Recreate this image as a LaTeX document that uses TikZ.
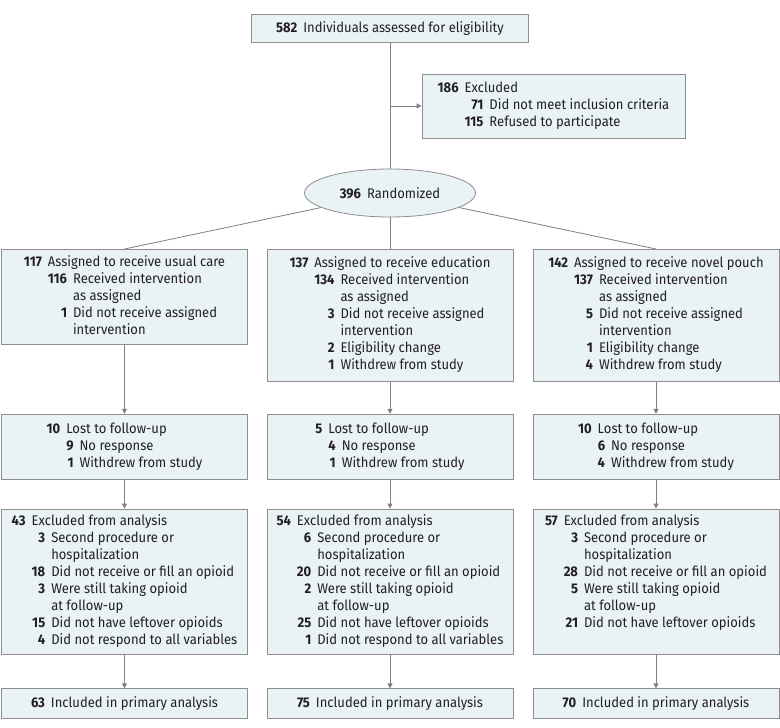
\documentclass[tikz,border=0pt]{standalone}
\usepackage{fontspec}
\setmainfont{Fira Sans}[FakeStretch=0.93]
\usepackage{tikz}
\usetikzlibrary{positioning,arrows.meta,shapes.geometric}
\definecolor{borde}{HTML}{8E8E8E}
\definecolor{relleno}{HTML}{E9F2F5}
\definecolor{linea}{HTML}{808080}
\definecolor{tinta}{HTML}{231F20}
\newcommand{\nro}[1]{\textbf{#1}}
\newcommand{\enc}[2]{\nro{#1} & \multicolumn{2}{@{}l@{}}{#2}}
\newenvironment{lista}{\begin{tabular}{@{}r@{\hspace{6pt}}r@{\hspace{6pt}}l@{}}}{\end{tabular}}

\begin{document}
\begin{tikzpicture}[x=1pt,y=-1pt,
      caja/.style={draw=borde,fill=relleno,line width=0.8pt,inner sep=0pt,
                   minimum width=246pt,text=tinta,font=\fontsize{14}{17}\selectfont},
      elip/.style={caja,ellipse,minimum width=171pt,minimum height=48pt},
      fl/.style={-{Triangle[length=5pt,width=5pt]},line width=0.8pt,linea},
      ln/.style={line width=0.8pt,linea},
      node distance=32pt]
    \useasboundingbox (0,0) rectangle (780,728);
    \node[caja,minimum width=277pt,minimum height=28pt] (eleg) at (390,28.5)
         {\nro{582}\hspace{6pt}Individuals assessed for eligibility};
    \node[caja,minimum width=263pt,minimum height=64pt] (excl) at (553.5,106)
         {\begin{lista}\enc{186}{Excluded}\\
          & \nro{71} & Did not meet inclusion criteria\\
          & \nro{115} & Refused to participate\end{lista}};
    \node[elip] (rand) at (390,193) {\nro{396}\hspace{6pt}Randomized};
    \coordinate (rama) at (eleg.south |- excl.west);
    % brazos
    \node[caja,anchor=north,minimum height=95pt] (usual) at (124.5,249)
         {\begin{lista}\enc{117}{Assigned to receive usual care}\\
          & \nro{116} & Received intervention\\ & & as assigned\\
          & \nro{1} & Did not receive assigned\\ & & intervention\end{lista}};
    \node[caja,anchor=north,minimum height=132pt] (educ) at (390,249)
         {\begin{lista}\enc{137}{Assigned to receive education}\\
          & \nro{134} & Received intervention\\ & & as assigned\\
          & \nro{3} & Did not receive assigned\\ & & intervention\\
          & \nro{2} & Eligibility change\\
          & \nro{1} & Withdrew from study\end{lista}};
    \node[caja,anchor=north,minimum height=132pt] (pouch) at (656,249)
         {\begin{lista}\enc{142}{Assigned to receive novel pouch}\\
          & \nro{137} & Received intervention\\ & & as assigned\\
          & \nro{5} & Did not receive assigned\\ & & intervention\\
          & \nro{1} & Eligibility change\\
          & \nro{4} & Withdrew from study\end{lista}};
    % seguimiento
    \node[caja,minimum height=65pt,below=of educ] (lost2)
         {\begin{lista}\enc{5}{Lost to follow-up}\\
          & \nro{4} & No response\\
          & \nro{1} & Withdrew from study\end{lista}};
    \node[caja,minimum height=65pt] (lost1) at (usual |- lost2)
         {\begin{lista}\enc{10}{Lost to follow-up}\\
          & \nro{9} & No response\\
          & \nro{1} & Withdrew from study\end{lista}};
    \node[caja,minimum height=65pt,below=of pouch] (lost3)
         {\begin{lista}\enc{10}{Lost to follow-up}\\
          & \nro{6} & No response\\
          & \nro{4} & Withdrew from study\end{lista}};
    % analisis
    \node[caja,minimum height=145pt,below=29pt of lost1] (anal1)
         {\begin{lista}\enc{43}{Excluded from analysis}\\
          & \nro{3} & Second procedure or\\ & & hospitalization\\
          & \nro{18} & Did not receive or fill an opioid\\
          & \nro{3} & Were still taking opioid\\ & & at follow-up\\
          & \nro{15} & Did not have leftover opioids\\
          & \nro{4} & Did not respond to all variables\end{lista}};
    \node[caja,minimum height=145pt,below=29pt of lost2] (anal2)
         {\begin{lista}\enc{54}{Excluded from analysis}\\
          & \nro{6} & Second procedure or\\ & & hospitalization\\
          & \nro{20} & Did not receive or fill an opioid\\
          & \nro{2} & Were still taking opioid\\ & & at follow-up\\
          & \nro{25} & Did not have leftover opioids\\
          & \nro{1} & Did not respond to all variables\end{lista}};
    \node[caja,minimum height=145pt,below=29pt of lost3] (anal3)
         {\begin{lista}\enc{57}{Excluded from analysis}\\
          & \nro{3} & Second procedure or\\ & & hospitalization\\
          & \nro{28} & Did not receive or fill an opioid\\
          & \nro{5} & Were still taking opioid\\ & & at follow-up\\
          & \nro{21} & Did not have leftover opioids\\ & & \end{lista}};
    \node[caja,minimum height=30pt,below=34pt of anal1] (incl1)
         {\nro{63}\hspace{6pt}Included in primary analysis};
    \node[caja,minimum height=30pt,below=34pt of anal2] (incl2)
         {\nro{75}\hspace{6pt}Included in primary analysis};
    \node[caja,minimum height=30pt,below=34pt of anal3] (incl3)
         {\nro{70}\hspace{6pt}Included in primary analysis};
    \draw[ln] (eleg) -- (rand);
    \draw[fl] (rama) -- (excl);
    \draw[ln] (rand) -- (usual.north);
    \draw[ln] (rand) -- (educ.north);
    \draw[ln] (rand) -- (pouch.north);
    \draw[fl] (usual) -- (lost1);
    \draw[fl] (educ) -- (lost2);
    \draw[fl] (pouch) -- (lost3);
    \draw[fl] (lost1) -- (anal1);
    \draw[fl] (lost2) -- (anal2);
    \draw[fl] (lost3) -- (anal3);
    \draw[fl] (anal1) -- (incl1);
    \draw[fl] (anal2) -- (incl2);
    \draw[fl] (anal3) -- (incl3);
  \end{tikzpicture}
\end{document}
